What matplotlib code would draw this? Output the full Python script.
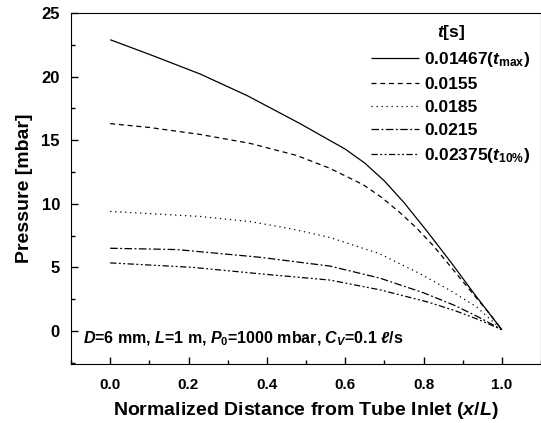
import matplotlib
matplotlib.use("Agg")
import matplotlib.pyplot as plt
from matplotlib.ticker import MultipleLocator

plt.rcParams['font.family'] = ['Liberation Sans', 'DejaVu Sans']
plt.rcParams['mathtext.fontset'] = 'custom'
plt.rcParams['mathtext.rm'] = 'Liberation Sans:bold'
plt.rcParams['mathtext.it'] = 'Liberation Sans:bold:italic'
plt.rcParams['mathtext.bf'] = 'Liberation Sans:bold'

# Data
x_t1 = [0.0, 0.1, 0.23, 0.35, 0.485, 0.6, 0.65, 0.7, 0.75, 0.81, 0.87, 0.93, 1.0]
y_t1 = [22.9, 21.75, 20.2, 18.5, 16.3, 14.3, 13.2, 11.8, 10.1, 7.8, 5.4, 2.9, 0.1]

x_t2 = [0.0, 0.1, 0.23, 0.357, 0.476, 0.56, 0.646, 0.693, 0.74, 0.782, 0.825, 0.86, 0.90, 0.935, 0.97, 1.0]
y_t2 = [16.3, 16.0, 15.45, 14.75, 13.8, 12.8, 11.5, 10.5, 9.3, 8.1, 6.7, 5.4, 3.9, 2.6, 1.3, 0.1]

x_t3 = [0.0, 0.23, 0.357, 0.459, 0.561, 0.689, 0.791, 0.867, 0.935, 1.0]
y_t3 = [9.4, 9.0, 8.6, 8.05, 7.35, 6.06, 4.5, 3.2, 1.9, 0.1]

x_t4 = [0.0, 0.17, 0.38, 0.561, 0.689, 0.80, 0.88, 0.94, 1.0]
y_t4 = [6.5, 6.4, 5.8, 5.1, 4.15, 3.0, 2.0, 1.1, 0.1]

x_t5 = [0.0, 0.21, 0.38, 0.561, 0.689, 0.808, 0.88, 0.94, 1.0]
y_t5 = [5.35, 5.0, 4.5, 4.0, 3.23, 2.3, 1.6, 0.9, 0.1]

labels = [r"0.01467($t_{\mathrm{max}}$)", "0.0155", "0.0185", "0.0215",
          r"0.02375($t_{\mathrm{10\%}}$)"]

fig = plt.figure(figsize=(5.41, 4.23), dpi=100)
ax = fig.add_axes([71/541, 1-364/423, 1-71/541, (364-13)/423])

styles = [(0, ()), (0, (4, 3)), (0, (1, 3)), (0, (6, 2, 1.5, 2)), (0, (5, 2, 1.5, 2, 1.5, 2))]
series = [(x_t1, y_t1), (x_t2, y_t2), (x_t3, y_t3), (x_t4, y_t4), (x_t5, y_t5)]
for (xs, ys), ls, lab in zip(series, styles, labels):
    ax.plot(xs, ys, color='black', lw=0.9, linestyle=ls, label=lab)

ax.set_xlim(-0.1, 1.1)
ax.set_ylim(-2.6, 25)
ax.xaxis.set_major_locator(MultipleLocator(0.2))
ax.xaxis.set_minor_locator(MultipleLocator(0.1))
ax.yaxis.set_major_locator(MultipleLocator(5))
ax.yaxis.set_minor_locator(MultipleLocator(2.5))
ax.tick_params(which='both', direction='in', top=False, right=False)
ax.tick_params(which='major', length=5, width=1)
ax.tick_params(which='minor', length=3, width=1)
ax.tick_params(axis='y', labelsize=12, pad=8)
ax.tick_params(axis='x', labelsize=11, pad=10)
ax.set_xticks([0.0, 0.2, 0.4, 0.6, 0.8, 1.0])
ax.set_xticklabels(["0.0", "0.2", "0.4", "0.6", "0.8", "1.0"])
ax.set_xlim(-0.1, 1.1)
for lbl in ax.get_xticklabels() + ax.get_yticklabels():
    lbl.set_fontweight('bold')

ax.set_xlabel(r"Normalized Distance from Tube Inlet ($x$/$L$)", fontsize=14,
              fontweight='bold', labelpad=6)
ax.set_ylabel("Pressure [mbar]", fontsize=14, fontweight='bold', labelpad=6)

leg = ax.legend(loc='upper right', frameon=False, fontsize=12.5,
                title=r"$t$[s]", title_fontproperties={'weight': 'bold', 'size': 12.5},
                handlelength=2.8, handletextpad=0.3, labelspacing=0.45,
                borderaxespad=0.2, bbox_to_anchor=(1.0, 1.0))
for t in leg.get_texts():
    t.set_fontweight('bold')

ax.text(0.025, 0.045, r"$D$=6 mm, $L$=1 m, $P_{0}$=1000 mbar, $C_{V}$=0.1 $\ell$/s",
        transform=ax.transAxes, fontsize=11.5, fontweight='bold', ha='left', va='bottom')

fig.savefig("out.png", dpi=100)
